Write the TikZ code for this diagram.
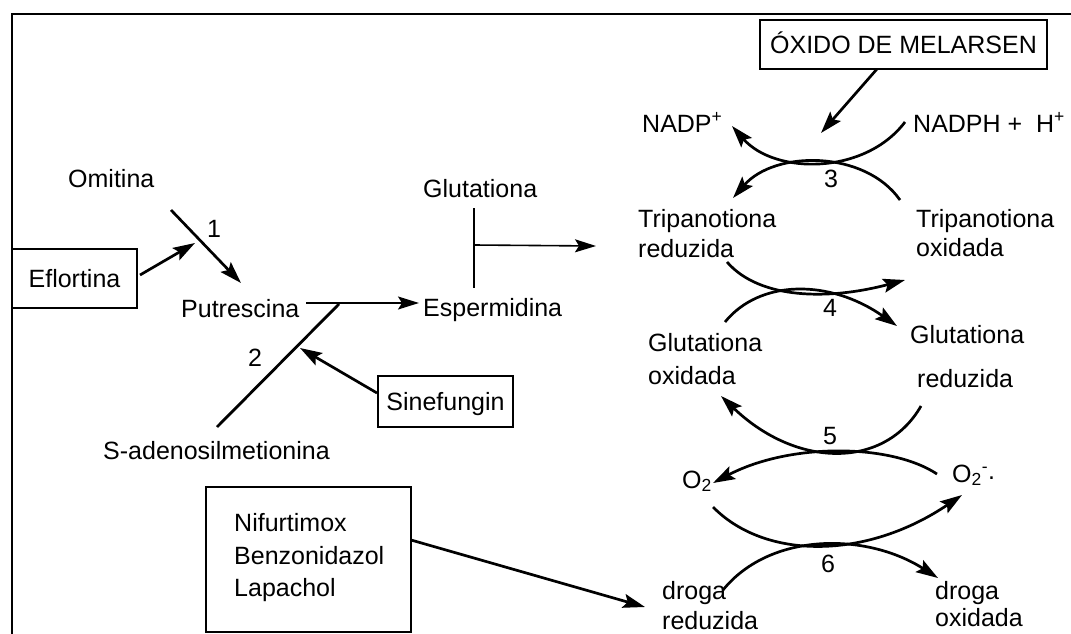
\documentclass[tikz,border=0pt]{standalone}
\usepackage{fontspec}
\setmainfont{Liberation Sans}
\usetikzlibrary{arrows.meta}
\begin{document}
\begin{tikzpicture}[x=1pt,y=-1pt,
  every node/.style={font=\fontsize{25}{30}\selectfont, inner sep=0pt},
  lbl/.style={text height=18pt, text depth=0pt, anchor=west},
  num/.style={text height=18pt, text depth=0pt},
  box/.style={draw, line width=1.5pt, text height=18pt, text depth=0pt},
  frame/.style={line width=1.6pt},
  thinline/.style={line width=1.6pt},
  thinarr/.style={line width=1.6pt, -{Stealth[length=21pt,width=13pt,inset=4pt]}},
  arr/.style={line width=2.7pt, -{Stealth[length=22pt,width=14pt,inset=4pt]}},
  thickline/.style={line width=2.8pt}
]
\useasboundingbox (0,0) rectangle (1071,634);

% open frame: top and left edges
\draw[frame] (12,634) -- (12,14) -- (1071,14);

% ---------- polyamine branch ----------
\node[lbl] (orn) at (68,178) {Omitina};
\node[lbl] (put) at (181,308) {Putrescina};
\node[lbl] (sam) at (103,450) {S-adenosilmetionina};
\node[lbl] (glu) at (423,188) {Glutationa};
\node[lbl] (spd) at (423,307) {Espermidina};

\node[box, minimum width=125pt, minimum height=59pt] (efl) at (74.5,278.5) {Eflortina};
\node[box, minimum width=135pt, minimum height=51pt] (sin) at (445.5,401.5) {Sinefungin};

% step 1: ornithine -> putrescine, inhibited by eflornithine
\coordinate (s1a) at (171,210);
\coordinate (s1b) at (241,283);
\draw[arr] (s1a) -- (s1b);
\node[num] (n1) at (214,228) {1};
\coordinate (e1) at (140,275);
\coordinate (e2) at (195,243);
\draw[arr] (e1) -- (e2);

% step 2: putrescine + SAM -> spermidine, inhibited by sinefungin
\coordinate (p1) at (306,303);
\coordinate (p2) at (419,303);
\draw[thinarr] (p1) -- (p2);
\coordinate (s2a) at (217,427);
\coordinate (s2b) at (339,304);
\draw[thickline] (s2a) -- (s2b);
\node[num] (n2) at (255,357) {2};
\coordinate (f1) at (377,393);
\coordinate (f2) at (300,348);
\draw[arr] (f1) -- (f2);

% glutathione + spermidine -> trypanothione
\coordinate (g1) at (474,208);
\coordinate (g2) at (474,288);
\coordinate (g3) at (474,245);
\coordinate (g4) at (596,246);
\draw[thinline] (g1) -- (g2);
\draw[thinarr] (g3) -- (g4);

% ---------- redox cycles ----------
\node[box, minimum width=287pt, minimum height=49pt] (mel) at (903.5,44.5) {ÓXIDO DE MELARSEN};
\node[lbl] (nadp) at (642,123) {NADP\textsuperscript{+}};
\node[lbl] (nadph) at (913,123) {NADPH +\ \ H\textsuperscript{+}};
\node[lbl] (tr1) at (638,218) {Tripanotiona};
\node[lbl] (tr2) at (638,248) {reduzida};
\node[lbl] (to1) at (916,218) {Tripanotiona};
\node[lbl] (to2) at (916,247) {oxidada};
\node[lbl] (go1) at (648,342) {Glutationa};
\node[lbl] (go2) at (648,375) {oxidada};
\node[lbl] (gr1) at (910,334) {Glutationa};
\node[lbl] (gr2) at (917,378) {reduzida};
\node[lbl] (o2) at (682,479) {O\textsubscript{2}};
\node[lbl] (sup) at (952,473) {O\textsubscript{2}\textsuperscript{-}\raisebox{3pt}{.}};
\node[lbl] (dr1) at (662,590) {droga};
\node[lbl] (dr2) at (662,620) {reduzida};
\node[lbl] (do1) at (935,590) {droga};
\node[lbl] (do2) at (935,617) {oxidada};

\node[box, minimum width=205pt, minimum height=145pt] (drugs) at (308.5,559.5) {};
\node[lbl] (nif) at (234,522) {Nifurtimox};
\node[lbl] (bzn) at (234,555) {Benzonidazol};
\node[lbl] (lap) at (234,587) {Lapachol};

% melarsen oxide inhibits step 3
\coordinate (m1) at (877,69);
\coordinate (m2) at (821,133);
\draw[arr] (m1) -- (m2);

% step 3
\coordinate (a3s) at (905,122);
\coordinate (a3e) at (732,126);
\draw[arr] (a3s) .. controls (865,175) and (775,175) .. (a3e);
\coordinate (b3s) at (900,200);
\coordinate (b3e) at (733,198);
\draw[arr] (b3s) .. controls (865,150) and (775,150) .. (b3e);
\node[num] (n3) at (831,178) {3};

% step 4
\coordinate (a4s) at (727,262);
\coordinate (a4e) at (905,280);
\draw[arr] (a4s) .. controls (760,300) and (830,300) .. (a4e);
\coordinate (b4s) at (725,322);
\coordinate (b4e) at (897,326);
\draw[arr] (b4s) .. controls (760,279) and (830,279) .. (b4e);
\node[num] (n4) at (830,307) {4};

% step 5
\coordinate (a5s) at (921,406);
\coordinate (a5e) at (721,396);
\draw[arr] (a5s) .. controls (885,469) and (797,469) .. (a5e);
\coordinate (b5s) at (937,474);
\coordinate (b5e) at (713,483);
\draw[arr] (b5s) .. controls (890,443) and (789,443) .. (b5e);
\node[num] (n5) at (830,435) {5};

% step 6
\coordinate (a6s) at (713,507);
\coordinate (a6e) at (962,495);
\draw[arr] (a6s) .. controls (765,560) and (866,560) .. (a6e);
\coordinate (b6s) at (723,590);
\coordinate (b6e) at (938,578);
\draw[arr] (b6s) .. controls (770,532) and (866,532) .. (b6e);
\node[num] (n6) at (828,563) {6};

% nitro drugs act on reduced drug
\coordinate (d1) at (411,540);
\coordinate (d2) at (645,607);
\draw[arr] (d1) -- (d2);

\end{tikzpicture}
\end{document}
